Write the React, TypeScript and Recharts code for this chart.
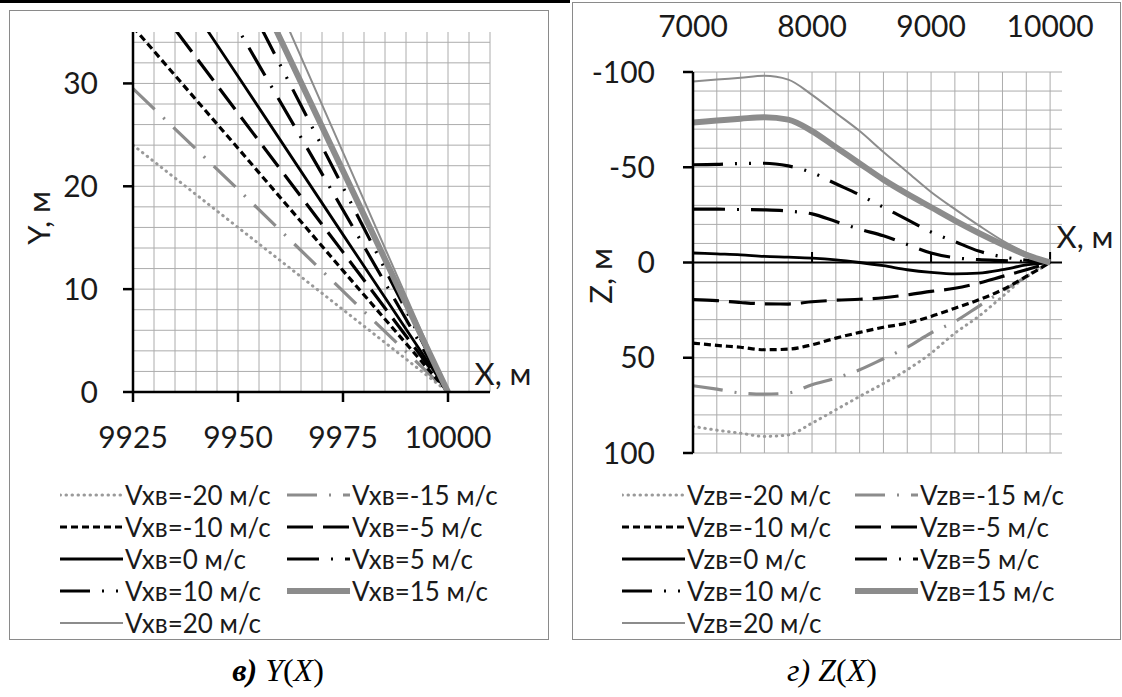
import { LineChart, Line, XAxis, YAxis, ReferenceLine } from "recharts";

// скорости ветра для обеих серий графиков
const speeds = [-20, -15, -10, -5, 0, 5, 10, 15, 20];

// Y(X): точки по X
const xTrackY = [9925, 9950, 9975, 10000];
const yVx_m20 = [24, 16, 8, 0];
const yVx_m15 = [29.5, 19.7, 9.8, 0];
const yVx_m10 = [35.5, 23.7, 11.8, 0];
const yVx_m5 = [40.7, 27.1, 13.6, 0];
const yVx_0 = [46, 30.7, 15.3, 0];
const yVx_5 = [53, 35.3, 17.7, 0];
const yVx_10 = [59.7, 39.8, 19.9, 0];
const yVx_15 = [64.5, 43, 21.5, 0];
const yVx_20 = [69.8, 46.5, 23.3, 0];

// Z(X): точки по X
const xTrackZ = [7000, 7200, 7400, 7600, 7800, 8000, 8200, 8400, 8600, 8800, 9000, 9200, 9400, 9600, 9800, 10000];
const zVz_m20 = [86, 88, 89.6, 91.3, 90.5, 84.3, 77.3, 70.3, 63.5, 56.3, 47.6, 37.1, 28.3, 17.8, 7.3, 0];
const zVz_m15 = [64.7, 66.5, 68.5, 69.1, 68.5, 64.2, 60.7, 56.3, 50.5, 44.5, 37, 31, 23, 15, 7.5, 0];
const zVz_m10 = [42.3, 43.5, 44.5, 45.8, 45.5, 43.2, 39.7, 36.7, 34, 31.8, 28.3, 24, 19.6, 14.3, 7.3, 0];
const zVz_m5 = [19.5, 20, 21, 21.7, 21.8, 20.6, 19.8, 19.3, 18.5, 17, 15.2, 13.5, 10.8, 7.3, 3.8, 0];
const zVz_0 = [-5, -4.5, -4, -3.2, -2.8, -2.3, -1.4, 0, 1.7, 3.8, 5.2, 6, 5.6, 3.8, 1.3, 0];
const zVz_5 = [-28, -28, -27.8, -27.6, -27, -25.5, -21.5, -17.5, -14, -9.5, -5, -2.5, -1.5, -1, -0.5, 0];
const zVz_10 = [-51.3, -51.5, -52, -52.1, -50.7, -47.2, -41.3, -35.5, -29, -22.5, -16, -11, -6, -3, -1.2, 0];
const zVz_15 = [-73.5, -74.5, -75.5, -76.3, -75, -69, -60.5, -52, -43.5, -36, -29, -22, -15.5, -9.5, -4, 0];
const zVz_20 = [-95, -96, -97, -98, -96, -88, -78.5, -69, -58, -47.5, -37, -28, -19.5, -11.5, -5, 0];

// подписи осей
const ticksXY = [9925, 9950, 9975, 10000];
const ticksYY = [0, 10, 20, 30];
const ticksXZ = [7000, 8000, 9000, 10000];
const ticksZZ = [-100, -50, 0, 50, 100];

// линии сетки
const gridXY = [9930, 9935, 9940, 9945, 9950, 9955, 9960, 9965, 9970, 9975, 9980, 9985, 9990, 9995, 10000, 10005, 10010];
const gridYY = [2, 4, 6, 8, 10, 12, 14, 16, 18, 20, 22, 24, 26, 28, 30, 32, 34];
const gridXZ = [7200, 7400, 7600, 7800, 8000, 8200, 8400, 8600, 8800, 9000, 9200, 9400, 9600, 9800, 10000];
const gridZZ = [-100, -90, -80, -70, -60, -50, -40, -30, -20, -10, 10, 20, 30, 40, 50, 60, 70, 80, 90, 100];

const ySeries = [yVx_m20, yVx_m15, yVx_m10, yVx_m5, yVx_0, yVx_5, yVx_10, yVx_15, yVx_20];
const zSeries = [zVz_m20, zVz_m15, zVz_m10, zVz_m5, zVz_0, zVz_5, zVz_10, zVz_15, zVz_20];

const buildRows = (xs: number[], series: number[][]) =>
  xs.map((x, j) => {
    const row: Record<string, number> = { x };
    series.forEach((arr, i) => (row["s" + i] = arr[j]));
    return row;
  });

const yRows = buildRows(xTrackY, ySeries);
const zRows = buildRows(xTrackZ, zSeries);

interface LineStyle {
  stroke: string;
  width: number;
  dash?: string;
  cap?: "round" | "butt";
}

const lineStyles: LineStyle[] = [
  { stroke: "#9a9a9a", width: 3, dash: "0.5 5.5", cap: "round" },
  { stroke: "#8c8c8c", width: 3.2, dash: "30 12 2 12" },
  { stroke: "#000", width: 3.2, dash: "7 4" },
  { stroke: "#000", width: 3.2, dash: "26 10" },
  { stroke: "#000", width: 2.8 },
  { stroke: "#000", width: 3.2, dash: "32 12 2 12" },
  { stroke: "#000", width: 3.2, dash: "30 12 2 12 2 12" },
  { stroke: "#8c8c8c", width: 6 },
  { stroke: "#8c8c8c", width: 2 },
];

const GRID = "#acacac";
const TICK_FONT = { fontSize: 30, fill: "#1a1a1a" };
const AXIS_LINE = { stroke: "#000", strokeWidth: 2.5 };

const renderLines = (curve: "linear" | "monotone") =>
  speeds.map((s, i) => (
    <Line
      key={s}
      dataKey={"s" + i}
      type={curve}
      dot={false}
      activeDot={false}
      isAnimationActive={false}
      stroke={lineStyles[i].stroke}
      strokeWidth={lineStyles[i].width}
      strokeDasharray={lineStyles[i].dash}
      strokeLinecap={lineStyles[i].cap || "butt"}
    />
  ));

const Legend = ({ name, cols, top }: { name: string; cols: number[]; top: number }) => (
  <>
    {speeds.map((s, i) => {
      const st = lineStyles[i];
      return (
        <div
          key={s}
          style={{
            position: "absolute",
            left: cols[i % 2],
            top: top + Math.floor(i / 2) * 32 - 15,
            height: 30,
            display: "flex",
            alignItems: "center",
            whiteSpace: "nowrap",
          }}
        >
          <svg width={63} height={10}>
            <line
              x1={0}
              y1={5}
              x2={63}
              y2={5}
              stroke={st.stroke}
              strokeWidth={st.width}
              strokeDasharray={st.dash}
              strokeLinecap={st.cap || "butt"}
            />
          </svg>
          <span style={{ fontSize: 26, lineHeight: "30px", color: "#1a1a1a", marginLeft: 2 }}>
            {`${name}=${s} м/с`}
          </span>
        </div>
      );
    })}
  </>
);

const AxisTitle = ({ text, x, y, rotate }: { text: string; x: number; y: number; rotate?: boolean }) => (
  <div
    style={{
      position: "absolute",
      left: x,
      top: y,
      fontSize: 31,
      lineHeight: "34px",
      color: "#1a1a1a",
      whiteSpace: "nowrap",
      transform: `translate(-50%, -50%)${rotate ? " rotate(-90deg)" : ""}`,
    }}
  >
    {text}
  </div>
);

export default function App() {
  return (
    <div
      style={{
        position: "absolute",
        left: 0,
        top: 0,
        width: 1122,
        height: 697,
        background: "#fff",
        fontFamily: 'Lato, "Open Sans", sans-serif',
        overflow: "hidden",
      }}
    >
      {/* рамки */}
      <div style={{ position: "absolute", left: 0, top: 0, width: 570, height: 3, background: "#000" }} />
      <div style={{ position: "absolute", left: 9, top: 10, width: 540, height: 630, border: "1.5px solid #8a8a8a", boxSizing: "border-box" }} />
      <div style={{ position: "absolute", left: 572, top: 2, width: 549, height: 638, border: "1.5px solid #8a8a8a", boxSizing: "border-box" }} />

      {/* Y(X) */}
      <div style={{ position: "absolute", left: 10, top: 10 }}>
        <LineChart width={538} height={460} data={yRows} margin={{ top: 22, right: 58, left: 0, bottom: 18 }}>
          {gridXY.map((v) => (
            <ReferenceLine key={"gx" + v} x={v} stroke={GRID} strokeWidth={1} />
          ))}
          {gridYY.map((v) => (
            <ReferenceLine key={"gy" + v} y={v} stroke={GRID} strokeWidth={1} />
          ))}
          <XAxis
            dataKey="x"
            type="number"
            domain={[9925, 10010]}
            ticks={ticksXY}
            allowDataOverflow
            height={60}
            tickSize={10}
            tickMargin={25}
            axisLine={AXIS_LINE}
            tickLine={AXIS_LINE}
            tick={TICK_FONT}
          />
          <YAxis
            type="number"
            domain={[0, 35]}
            ticks={ticksYY}
            allowDataOverflow
            width={123}
            tickSize={10}
            tickMargin={25}
            axisLine={AXIS_LINE}
            tickLine={AXIS_LINE}
            tick={TICK_FONT}
          />
          {renderLines("linear")}
        </LineChart>
      </div>
      <AxisTitle text="X, м" x={503} y={373} />
      <AxisTitle text="Y, м" x={38} y={218} rotate />
      <Legend name="Vxв" cols={[60, 287]} top={495} />

      {/* Z(X) */}
      <div style={{ position: "absolute", left: 572, top: 2 }}>
        <LineChart width={548} height={480} data={zRows} margin={{ top: 10, right: 58, left: 0, bottom: 29 }}>
          {gridXZ.map((v) => (
            <ReferenceLine key={"gx" + v} x={v} stroke={GRID} strokeWidth={1} />
          ))}
          {gridZZ.map((v) => (
            <ReferenceLine key={"gz" + v} y={v} stroke={GRID} strokeWidth={1} />
          ))}
          <ReferenceLine y={0} stroke="#000" strokeWidth={2} />
          {ticksXZ.slice(1).map((t) => (
            <ReferenceLine
              key={"tk" + t}
              segment={[
                { x: t, y: 0 },
                { x: t, y: -5.5 },
              ]}
              stroke="#000"
              strokeWidth={2}
            />
          ))}
          <XAxis
            dataKey="x"
            type="number"
            orientation="top"
            domain={[7000, 10100]}
            ticks={ticksXZ}
            allowDataOverflow
            height={60}
            axisLine={false}
            tickLine={false}
            tickSize={0}
            tickMargin={35}
            tick={TICK_FONT}
          />
          <YAxis
            type="number"
            domain={[-100, 100]}
            ticks={ticksZZ}
            reversed
            allowDataOverflow
            width={121}
            tickSize={10}
            tickMargin={28}
            axisLine={AXIS_LINE}
            tickLine={AXIS_LINE}
            tick={TICK_FONT}
          />
          {renderLines("monotone")}
        </LineChart>
      </div>
      <AxisTitle text="X, м" x={1085} y={236} />
      <AxisTitle text="Z, м" x={600} y={276} rotate />
      <Legend name="Vzв" cols={[622, 855]} top={495} />

      {/* подписи */}
      <div style={{ position: "absolute", left: 178, top: 648, width: 200, textAlign: "center", fontFamily: '"Liberation Serif", serif', fontSize: 32, lineHeight: "44px" }}>
        <b><i>в)</i></b> <i>Y</i>(<i>X</i>)
      </div>
      <div style={{ position: "absolute", left: 732, top: 648, width: 200, textAlign: "center", fontFamily: '"Liberation Serif", serif', fontSize: 32, lineHeight: "44px" }}>
        <i>г)</i> <i>Z</i>(<i>X</i>)
      </div>
    </div>
  );
}
